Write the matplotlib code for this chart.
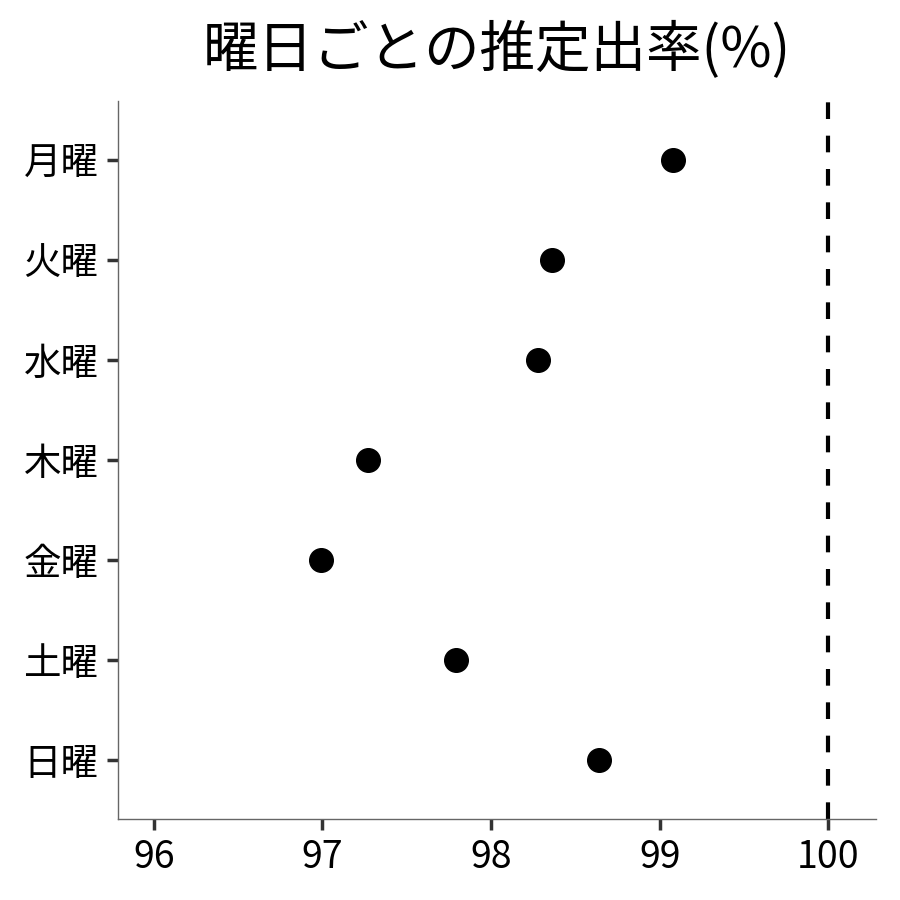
import matplotlib
matplotlib.use('Agg')
import matplotlib.pyplot as plt

plt.rcParams['font.family'] = ['Noto Sans CJK JP', 'DejaVu Sans']

days = ['月曜', '火曜', '水曜', '木曜', '金曜', '土曜', '日曜']
rates = [99.08, 98.36, 98.28, 97.27, 96.99, 97.79, 98.64]
xticks = [96, 97, 98, 99, 100]
ref_line = 100

fig = plt.figure(figsize=(9, 9), dpi=100)
ax = fig.add_axes([0.131, 0.09, 0.842, 0.798])

ypos = list(range(len(days)))
ax.scatter(rates, ypos, s=17 ** 2, color='black', zorder=3)
ax.axvline(ref_line, color='black', linewidth=3, dashes=(4, 4), zorder=2)

ax.set_yticks(ypos)
ax.set_yticklabels(days)
ax.set_xticks(xticks)
ax.set_xlim(95.787, 100.28)
ax.set_ylim(len(days) - 1 + 0.59, -0.59)

for side in ['top', 'right']:
    ax.spines[side].set_visible(False)
for side in ['left', 'bottom']:
    ax.spines[side].set_color('#666666')
    ax.spines[side].set_linewidth(1.0)

ax.tick_params(axis='both', length=8, width=2.5, color='#333333',
               labelsize=27, labelcolor='black', pad=6)

ax.set_title('曜日ごとの推定出率(%)', fontsize=40, pad=24)

fig.savefig('out.png', dpi=100)
